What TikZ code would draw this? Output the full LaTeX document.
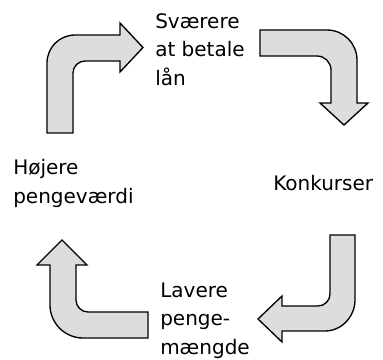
\documentclass[tikz,border=0pt]{standalone}
\usepackage{fontspec}
\setmainfont{DejaVu Sans}
\definecolor{arrowfill}{RGB}{221,221,221}
\tikzset{
  bentarrow/.style={draw=black, line width=1pt, fill=arrowfill, line join=miter},
  lbl/.style={inner sep=0pt, anchor=base west, align=left,
    font=\fontsize{15}{21.75}\selectfont}
}
\begin{document}
\begin{tikzpicture}[x=0.75pt, y=-0.75pt]
\useasboundingbox (0,0) rectangle (383,360);
% arrow 1: up then right
\path[bentarrow] (47,133) -- (47,63) .. controls (47,47.5) and (59.5,35) .. (75,35)
  -- (120,35) -- (120,23) -- (143,47.5) -- (120,72) -- (120,61) -- (85,61)
  .. controls (78.4,61) and (73,66.4) .. (73,73) -- (73,133) -- cycle;
% arrow 2: right then down
\path[bentarrow] (260,30) -- (327,30) .. controls (343.6,30) and (357,43.4) .. (357,60)
  -- (357,103) -- (368,103) -- (344,125) -- (320,103) -- (331,103) -- (331,70)
  .. controls (331,62.3) and (324.7,56) .. (317,56) -- (260,56) -- cycle;
% arrow 3: down then left
\path[bentarrow] (330,235) -- (355,235) -- (355,300) .. controls (355,316.6) and (341.6,331) .. (325,331)
  -- (282,331) -- (282,342) -- (258,319) -- (282,296) -- (282,306) -- (318,306)
  .. controls (324.6,306) and (330,300.6) .. (330,294) -- cycle;
% arrow 4: left then up
\path[bentarrow] (148,312) -- (148,338) -- (83,338) .. controls (64.8,338) and (50,323.2) .. (50,305)
  -- (50,265) -- (37,265) -- (62,240) -- (87,265) -- (76,265) -- (76,300)
  .. controls (76,306.6) and (81.4,312) .. (88,312) -- cycle;
% labels (base anchor = baseline of the last line)
\node[lbl] (svaer) at (155,86) {Sværere\\at betale\\lån};
\node[lbl] (hoejere) at (13,204) {Højere\\pengeværdi};
\node[lbl] (konk) at (273,191) {Konkurser};
\node[lbl] (lavere) at (160,355) {Lavere\\penge-\\mængde};
\end{tikzpicture}
\end{document}
